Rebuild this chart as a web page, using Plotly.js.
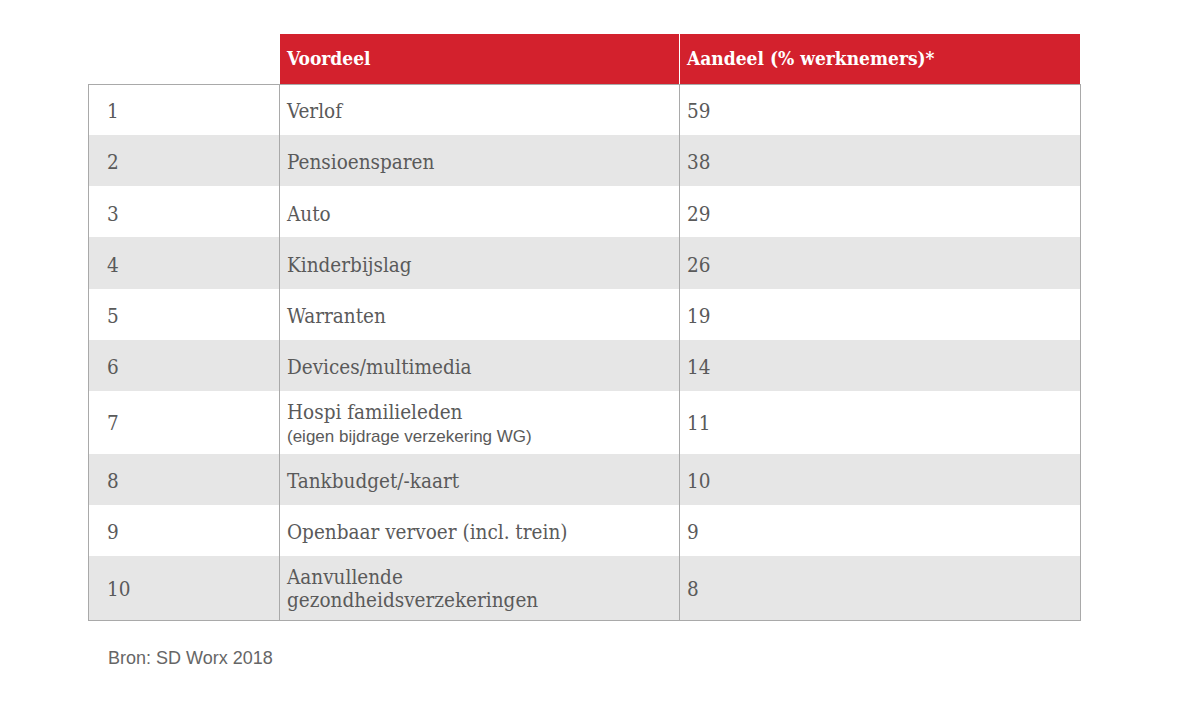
<!DOCTYPE html>
<html>
<head>
<meta charset="utf-8">
<script src="https://cdn.plot.ly/plotly-3.0.1.min.js"></script>
<style>html,body{margin:0;padding:0;background:#fff;}#chart{width:1200px;height:714px;}</style>
</head>
<body>
<div id="chart"></div>
<script>
var headers = ['', '', 'Voordeel', 'Aandeel (% werknemers)*'];
var ranks = ['1', '2', '3', '4', '5', '6', '7', '8', '9', '10'];
var voordelen = [
  'Verlof',
  'Pensioensparen',
  'Auto',
  'Kinderbijslag',
  'Warranten',
  'Devices/multimedia',
  'Hospi familieleden',
  'Tankbudget/-kaart',
  'Openbaar vervoer (incl. trein)',
  'Aanvullende<br>gezondheidsverzekeringen'
];
var notes = ['', '', '', '', '', '', '(eigen bijdrage verzekering WG)', '', '', ''];
var aandeel = [59, 38, 29, 26, 19, 14, 11, 10, 9, 8];
var source = 'Bron: SD Worx 2018';

var W = 1200, H = 714;
var red = '#d3212d', grey = '#e6e6e6', border = '#a9a9a9', ink = '#5a5a5a';
var textSize = 20.5, headSize = 19, noteSize = 17;
var rowFill = ranks.map(function(_, i){ return i % 2 === 0 ? '#ffffff' : grey; });
var blank = ranks.map(function(){ return ''; });

function isTall(i){ return !!notes[i] || voordelen[i].indexOf('<br>') >= 0; }
function sized(t, s){ return '<span style="font-size:' + s + 'px">' + t + '</span>'; }
// plotly tables put text at the top of a cell: a small spacer line lowers a single line to the middle
function centred(t, s){ return '&nbsp;<br>' + sized(t, s); }

var rankTxt = ranks.map(function(t){ return centred(t, textSize); });
var valueTxt = aandeel.map(function(t){ return centred(t, textSize); });
var labelTxt = voordelen.map(function(t, i){
  if (!isTall(i)) return centred(t, textSize);
  var lines = t.split('<br>').map(function(l){ return sized(l, textSize); });
  if (notes[i]) lines.push('<span style="font-family:\'Liberation Sans\',Arial,sans-serif;font-size:' + noteSize + 'px">' + notes[i] + '</span>');
  return lines.join('<br>');
});
var headTxt = headers.map(function(t){ return t ? centred(t, headSize) : t; });

var sideSize = ranks.map(function(_, i){ return isTall(i) ? (notes[i] ? 13.5 : 14) : 11.5; });
var labelSize = voordelen.map(function(_, i){ return isTall(i) ? 18 : 11.5; });

var dom = {x: [88 / W, 1080 / W], y: [0, 1 - 33 / H]};
var headH = 51, rowH = 51.3, tableBottom = 620;

var table = {
  type: 'table',
  domain: dom,
  columnwidth: [11, 180, 400, 401],
  header: {
    values: headTxt,
    height: headH,
    align: 'left',
    fill: {color: ['#ffffff', '#ffffff', red, red]},
    line: {color: '#ffffff', width: 1},
    font: {family: 'DejaVu Serif Condensed', size: 11, color: '#ffffff', weight: 'bold'}
  },
  cells: {
    values: [blank, rankTxt, labelTxt, valueTxt],
    height: rowH,
    align: 'left',
    fill: {color: [rowFill, rowFill, rowFill, rowFill]},
    line: {color: [rowFill, rowFill, rowFill, rowFill], width: 1},
    font: {family: 'DejaVu Serif Condensed', size: [sideSize, sideSize, labelSize, sideSize], color: ink}
  }
};

// outer border and column rules (no rules between rows)
var frame = {
  type: 'table',
  domain: dom,
  columnwidth: [191, 400, 401],
  header: {
    values: ['', '', ''],
    height: headH,
    fill: {color: 'rgba(0,0,0,0)'},
    line: {color: 'rgba(0,0,0,0)', width: 0}
  },
  cells: {
    values: [[''], [''], ['']],
    height: tableBottom - 33 - headH,
    fill: {color: 'rgba(0,0,0,0)'},
    line: {color: border, width: 1}
  }
};

function px(x){ return x / W; }
function py(y){ return 1 - y / H; }

var layout = {
  width: W, height: H,
  margin: {l: 0, r: 0, t: 0, b: 0},
  paper_bgcolor: '#ffffff',
  annotations: [{
    text: source, xref: 'paper', yref: 'paper', x: px(106), y: py(658),
    xanchor: 'left', yanchor: 'middle', showarrow: false,
    font: {family: 'Liberation Sans, Arial, sans-serif', size: 18, color: '#666666'}
  }]
};

Plotly.newPlot('chart', [table, frame], layout, {displayModeBar: false, staticPlot: true});
</script>
</body>
</html>
